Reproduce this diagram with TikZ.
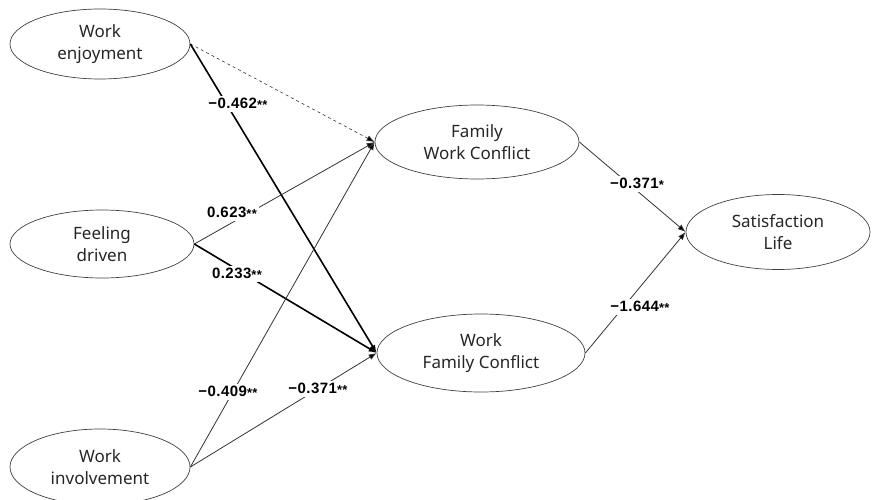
\documentclass[tikz,border=0pt]{standalone}
\usepackage{fontspec}
\setmainfont{Noto Sans}
\newfontfamily\coeffont{Liberation Sans}[BoldFont={Liberation Sans Bold}, LetterSpace=3]
\usetikzlibrary{shapes.geometric, arrows.meta}

\newcommand{\sig}[1]{{\fontsize{13}{13}\selectfont\raisebox{-1.5pt}{#1}}}

\begin{document}
\begin{tikzpicture}[x=1pt, y=-1pt,
    var/.style={ellipse, draw=black!75, line width=0.7pt, inner sep=0pt, align=center,
        font=\fontsize{17}{22}\selectfont, text=black!85},
    path/.style={draw=black!80, line width=0.8pt, -{Latex[length=8pt,width=6pt,fill=black]}},
    strong/.style={path, draw=black, line width=1.6pt},
    coef/.style={fill=white, inner sep=2pt, font=\coeffont\fontsize{15}{15}\selectfont\bfseries}]
        \useasboundingbox (0,0) rectangle (872,500);
        % predictors
        \node[var, minimum width=180, minimum height=70] (we) at (100,44) {Work\\enjoyment};
        \node[var, minimum width=184, minimum height=68] (fd) at (102,244) {Feeling\\driven};
        \node[var, minimum width=180, minimum height=76] (wi) at (100,467) {Work\\involvement};
        % mediators
        \node[var, minimum width=204, minimum height=74] (fwc) at (477,142) {Family\\Work Conflict};
        \node[var, minimum width=208, minimum height=78] (wfc) at (481,353) {Work\\Family Conflict};
        % outcome
        \node[var, minimum width=184, minimum height=75] (sl) at (778,232) {Satisfaction\\Life};

        % paths
        \draw[path, dashed, line width=0.6pt] (we.east) -- (fwc.west);
        \draw[strong] (we.east) -- (wfc.west);
        \draw[path] (fd.east) -- (fwc.west);
        \draw[strong] (fd.east) -- (wfc.west);
        \draw[path] (wi.east) -- (fwc.west);
        \draw[path] (wi.east) -- (wfc.west);
        \draw[path] (fwc.east) -- (sl.west);
        \draw[path] (wfc.east) -- (sl.west);

        % coefficients
        \node[coef] (c1) at (238,104) {−0.462\sig{**}};
        \node[coef] (c2) at (232,213) {0.623\sig{**}};
        \node[coef] (c3) at (237,274) {0.233\sig{**}};
        \node[coef] (c4) at (228,392) {−0.409\sig{**}};
        \node[coef] (c5) at (318,389) {−0.371\sig{**}};
        \node[coef] (c6) at (637,184) {−0.371\sig{*}};
        \node[coef] (c7) at (640,307) {−1.644\sig{**}};
    \end{tikzpicture}
\end{document}
